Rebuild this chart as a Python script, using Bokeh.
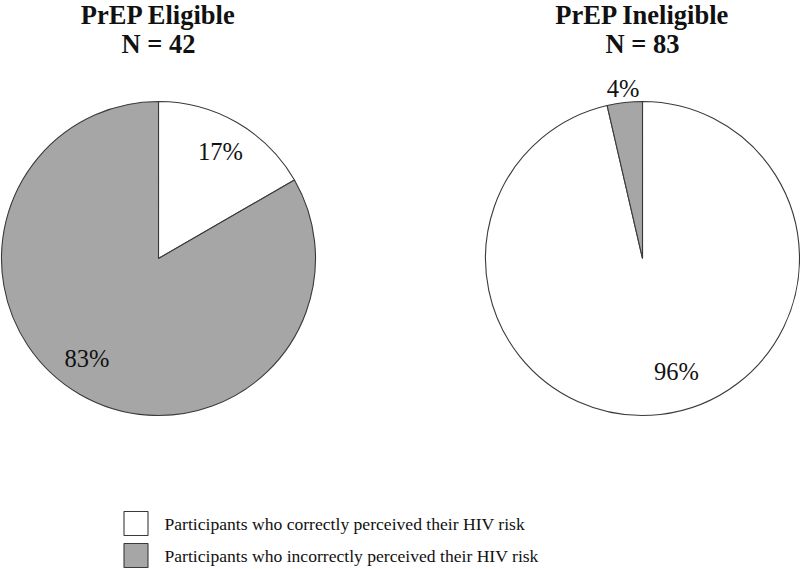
import numpy as np
from bokeh.plotting import figure
from bokeh.models import Range1d, ColumnDataSource
from bokeh.core.properties import value
from bokeh.embed import file_html
from bokeh.resources import INLINE

# ---- data ----
groups = ["PrEP Eligible", "PrEP Ineligible"]
group_n = [42, 83]
correct_counts = [7, 80]
incorrect_counts = [35, 3]
legend_labels = ["Participants who correctly perceived their HIV risk",
                 "Participants who incorrectly perceived their HIV risk"]
slice_colors = ["#ffffff", "#a6a6a6"]

# ---- layout (reference pixel space, y measured from top) ----
H = 569
def Y(py):
    return H - py

centers_x = [158, 642]
center_y = Y(258)
R = 157
FONT = "Liberation Serif"

p = figure(width=800, height=569, output_backend="svg", toolbar_location=None,
           x_range=Range1d(0, 800), y_range=Range1d(0, 569),
           min_border=0, outline_line_color=None)
p.axis.visible = False
p.grid.visible = False
p.background_fill_color = "white"
p.border_fill_color = "white"

# label placement: (radius factor, angle shift in degrees) per slice
label_pos = [[(0.788, 0.0), (0.783, -5.6)], [(0.75, 10.3), (1.092, 0.0)]]

for gi in range(2):
    counts = np.array([correct_counts[gi], incorrect_counts[gi]], dtype=float)
    frac = counts / counts.sum()
    cum = np.concatenate([[0], np.cumsum(frac)])
    starts = np.pi / 2 - 2 * np.pi * cum[:-1]
    ends = np.pi / 2 - 2 * np.pi * cum[1:]
    src = ColumnDataSource(dict(x=[centers_x[gi]] * 2, y=[center_y] * 2,
                                start=starts, end=ends, color=slice_colors))
    p.wedge(x="x", y="y", radius=R, start_angle="start", end_angle="end",
            direction="clock", fill_color="color", line_color="#3a3a3a",
            line_width=1.1, source=src)
    # percent labels
    lx, ly, lt = [], [], []
    for si in range(2):
        mid = (starts[si] + ends[si]) / 2
        rf, shift = label_pos[gi][si]
        a = mid + np.deg2rad(shift)
        lx.append(centers_x[gi] + rf * R * np.cos(a))
        ly.append(center_y + rf * R * np.sin(a))
        lt.append(f"{round(frac[si] * 100):d}%")
    p.text(x=lx, y=ly, text=lt, text_font=value(FONT), text_font_size="24.5px",
           text_align="center", text_baseline="middle", text_color="#111111")
    # titles
    p.text(x=[centers_x[gi], centers_x[gi]], y=[Y(14), Y(43)],
           text=[groups[gi], f"N = {group_n[gi]}"], text_font=value(FONT),
           text_font_size="26.5px", text_font_style="bold",
           text_align="center", text_baseline="middle", text_color="#111111")

# legend
leg_x = 135.5
leg_y = [Y(523), Y(555)]
p.rect(x=[leg_x] * 2, y=leg_y, width=24, height=24, fill_color=slice_colors,
       line_color="#3a3a3a", line_width=1.1)
p.text(x=[164] * 2, y=leg_y, text=legend_labels, text_font=value(FONT),
       text_font_size="17.6px", text_align="left", text_baseline="middle",
       text_color="#111111")

open("out.html", "w").write(file_html(p, INLINE))
